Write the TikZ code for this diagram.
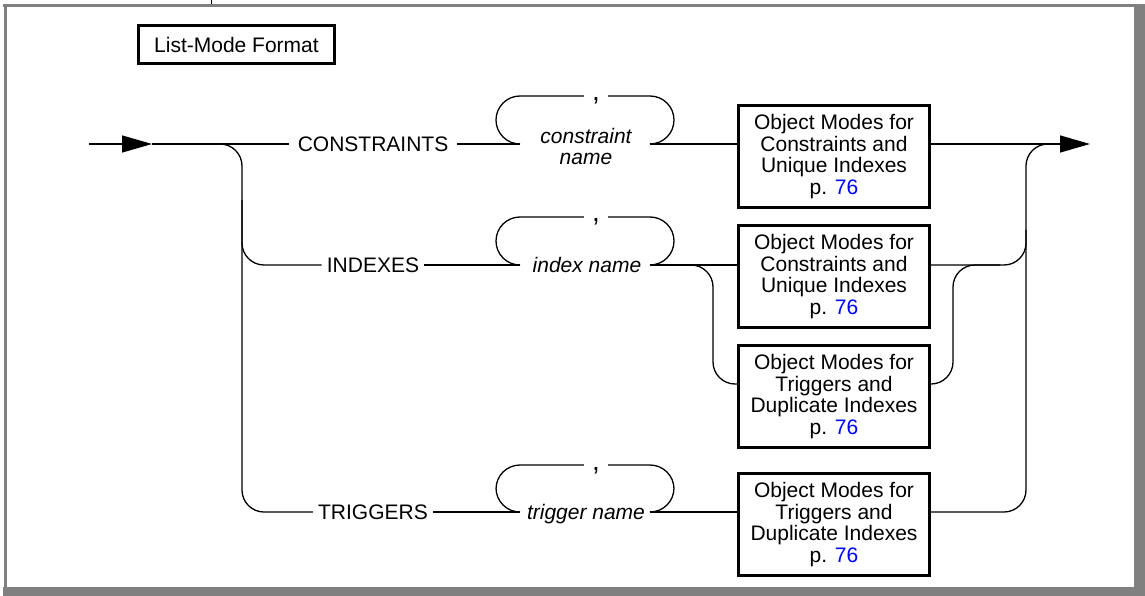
\documentclass[tikz,border=0pt]{standalone}
\usepackage{fontspec}
\setmainfont{Liberation Sans}
\usepackage{tikz}
\usetikzlibrary{arrows.meta, calc}
\definecolor{framegray}{RGB}{128, 128, 128}
\definecolor{linkblue}{RGB}{0, 0, 255}

\begin{document}
\begin{tikzpicture}[x=1pt,y=-1pt,
          every node/.style={font=\fontsize{21pt}{21.5pt}\selectfont},
          rail/.style={line width=1.3pt},
          railbend/.style={rail,rounded corners=22pt},
          railloop/.style={rail,rounded corners=24pt},
          kw/.style={inner xsep=5pt,inner ysep=0pt},
          varname/.style={font=\fontsize{21pt}{21pt}\selectfont\itshape,
                          align=center,inner sep=0pt},
          commasep/.style={font=\fontsize{28pt}{28pt}\selectfont,
                           text height=0pt,text depth=0pt,
                           inner xsep=8pt,inner ysep=0pt},
          objbox/.style={draw,line width=3pt,minimum width=191pt,
                         minimum height=102pt,align=center,
                         inner sep=0pt,anchor=north},
          endarrow/.style={-{Triangle[length=30pt,width=17pt]}}]
        \useasboundingbox (0,0) rectangle (1145,596);
        % page frame
        \fill[framegray] (1134,4) rectangle (1145,596);
        \fill[framegray] (3,587) rectangle (1145,596);
        \draw[framegray,line width=3pt] (3,5.5) -- (1145,5.5);
        \draw[framegray,line width=3pt] (5,4) -- (5,596);
        \draw[line width=1pt] (211,0) -- (211,4);
        \node[draw,line width=3pt,minimum width=196pt,minimum height=38pt,
              inner sep=0pt] (title) at (236.5,44.5) {List-Mode Format};
        % keywords
        \coordinate (entry) at (89,144);
        \coordinate (entrytip) at (152,144);
        \node[kw,inner xsep=9pt] (kcon) at (373,144) {CONSTRAINTS};
        \node[kw] (kidx) at (373,265) {INDEXES};
        \node[kw] (ktrg) at (373,512) {TRIGGERS};
        \draw[rail,endarrow] (entry) -- (entrytip);
        \draw[rail] (entrytip) -- (kcon);
        \draw[railbend] (entrytip) -- (242,144) -- (242,512) -- (ktrg);
        \draw[railbend] (242,200) -- (242,265) -- (kidx);
        % object mode boxes
        \node[objbox] (box1) at (834,104)
          {Object Modes for\\Constraints and\\Unique Indexes\\p. \textcolor{linkblue}{76}};
        \node[objbox] (box2) at (834,224)
          {Object Modes for\\Constraints and\\Unique Indexes\\p. \textcolor{linkblue}{76}};
        \node[objbox] (box3) at (834,344)
          {Object Modes for\\Triggers and\\Duplicate Indexes\\p. \textcolor{linkblue}{76}};
        \node[objbox] (box4) at (834,472)
          {Object Modes for\\Triggers and\\Duplicate Indexes\\p. \textcolor{linkblue}{76}};
        \coordinate (b3in) at ($(box3.north west)+(0,40)$);
        \coordinate (b3out) at ($(box3.north east)+(0,40)$);
        % constraint name loop
        \coordinate (l1a) at (520,144);
        \coordinate (l1b) at (650,144);
        \node[varname] (vcon) at (586,146) {constraint\\name};
        \node[commasep] (s1) at (596,96) {\raisebox{-5pt}{,}};
        \draw[rail] (kcon) -- (l1a);
        \draw[railloop] (l1a) -- (496,144) -- (496,96) -- (s1);
        \draw[railloop] (s1) -- (674,96) -- (674,144) -- (l1b);
        \draw[rail] (l1b) -- (box1.west |- l1b);
        % index name loop
        \coordinate (l2a) at (520,265);
        \coordinate (l2b) at (650,265);
        \node[varname] (vidx) at (587,265) {index name};
        \node[commasep] (s2) at (596,217) {\raisebox{-5pt}{,}};
        \draw[rail] (kidx) -- (l2a);
        \draw[railloop] (l2a) -- (496,265) -- (496,217) -- (s2);
        \draw[railloop] (s2) -- (674,217) -- (674,265) -- (l2b);
        \draw[rail] (l2b) -- (box2.west |- l2b);
        \draw[railbend] (l2b) -- (713,265) -- (713,384) -- (b3in);
        % trigger name loop
        \coordinate (l4a) at (520,512);
        \coordinate (l4b) at (650,512);
        \node[varname,anchor=base] (vtrg) at (586,519) {trigger name};
        \node[commasep] (s4) at (596,465) {\raisebox{-5pt}{,}};
        \draw[rail] (ktrg) -- (l4a);
        \draw[railloop] (l4a) -- (496,512) -- (496,465) -- (s4);
        \draw[railloop] (s4) -- (674,465) -- (674,512) -- (l4b);
        \draw[rail] (l4b) -- (box4.west |- l4b);
        % exit
        \coordinate (exit) at (1090,144);
        \draw[rail,endarrow] (box1.east |- kcon) -- (exit);
        \draw[railbend] (box4.east |- ktrg) -- (1026,512) -- (1026,144) -- (1060,144);
        \draw[railbend] (box2.east |- kidx) -- (1026,265) -- (1026,230);
        \draw[railbend] (b3out) -- (953,384) -- (953,265) -- (1000,265);
      \end{tikzpicture}
\end{document}
